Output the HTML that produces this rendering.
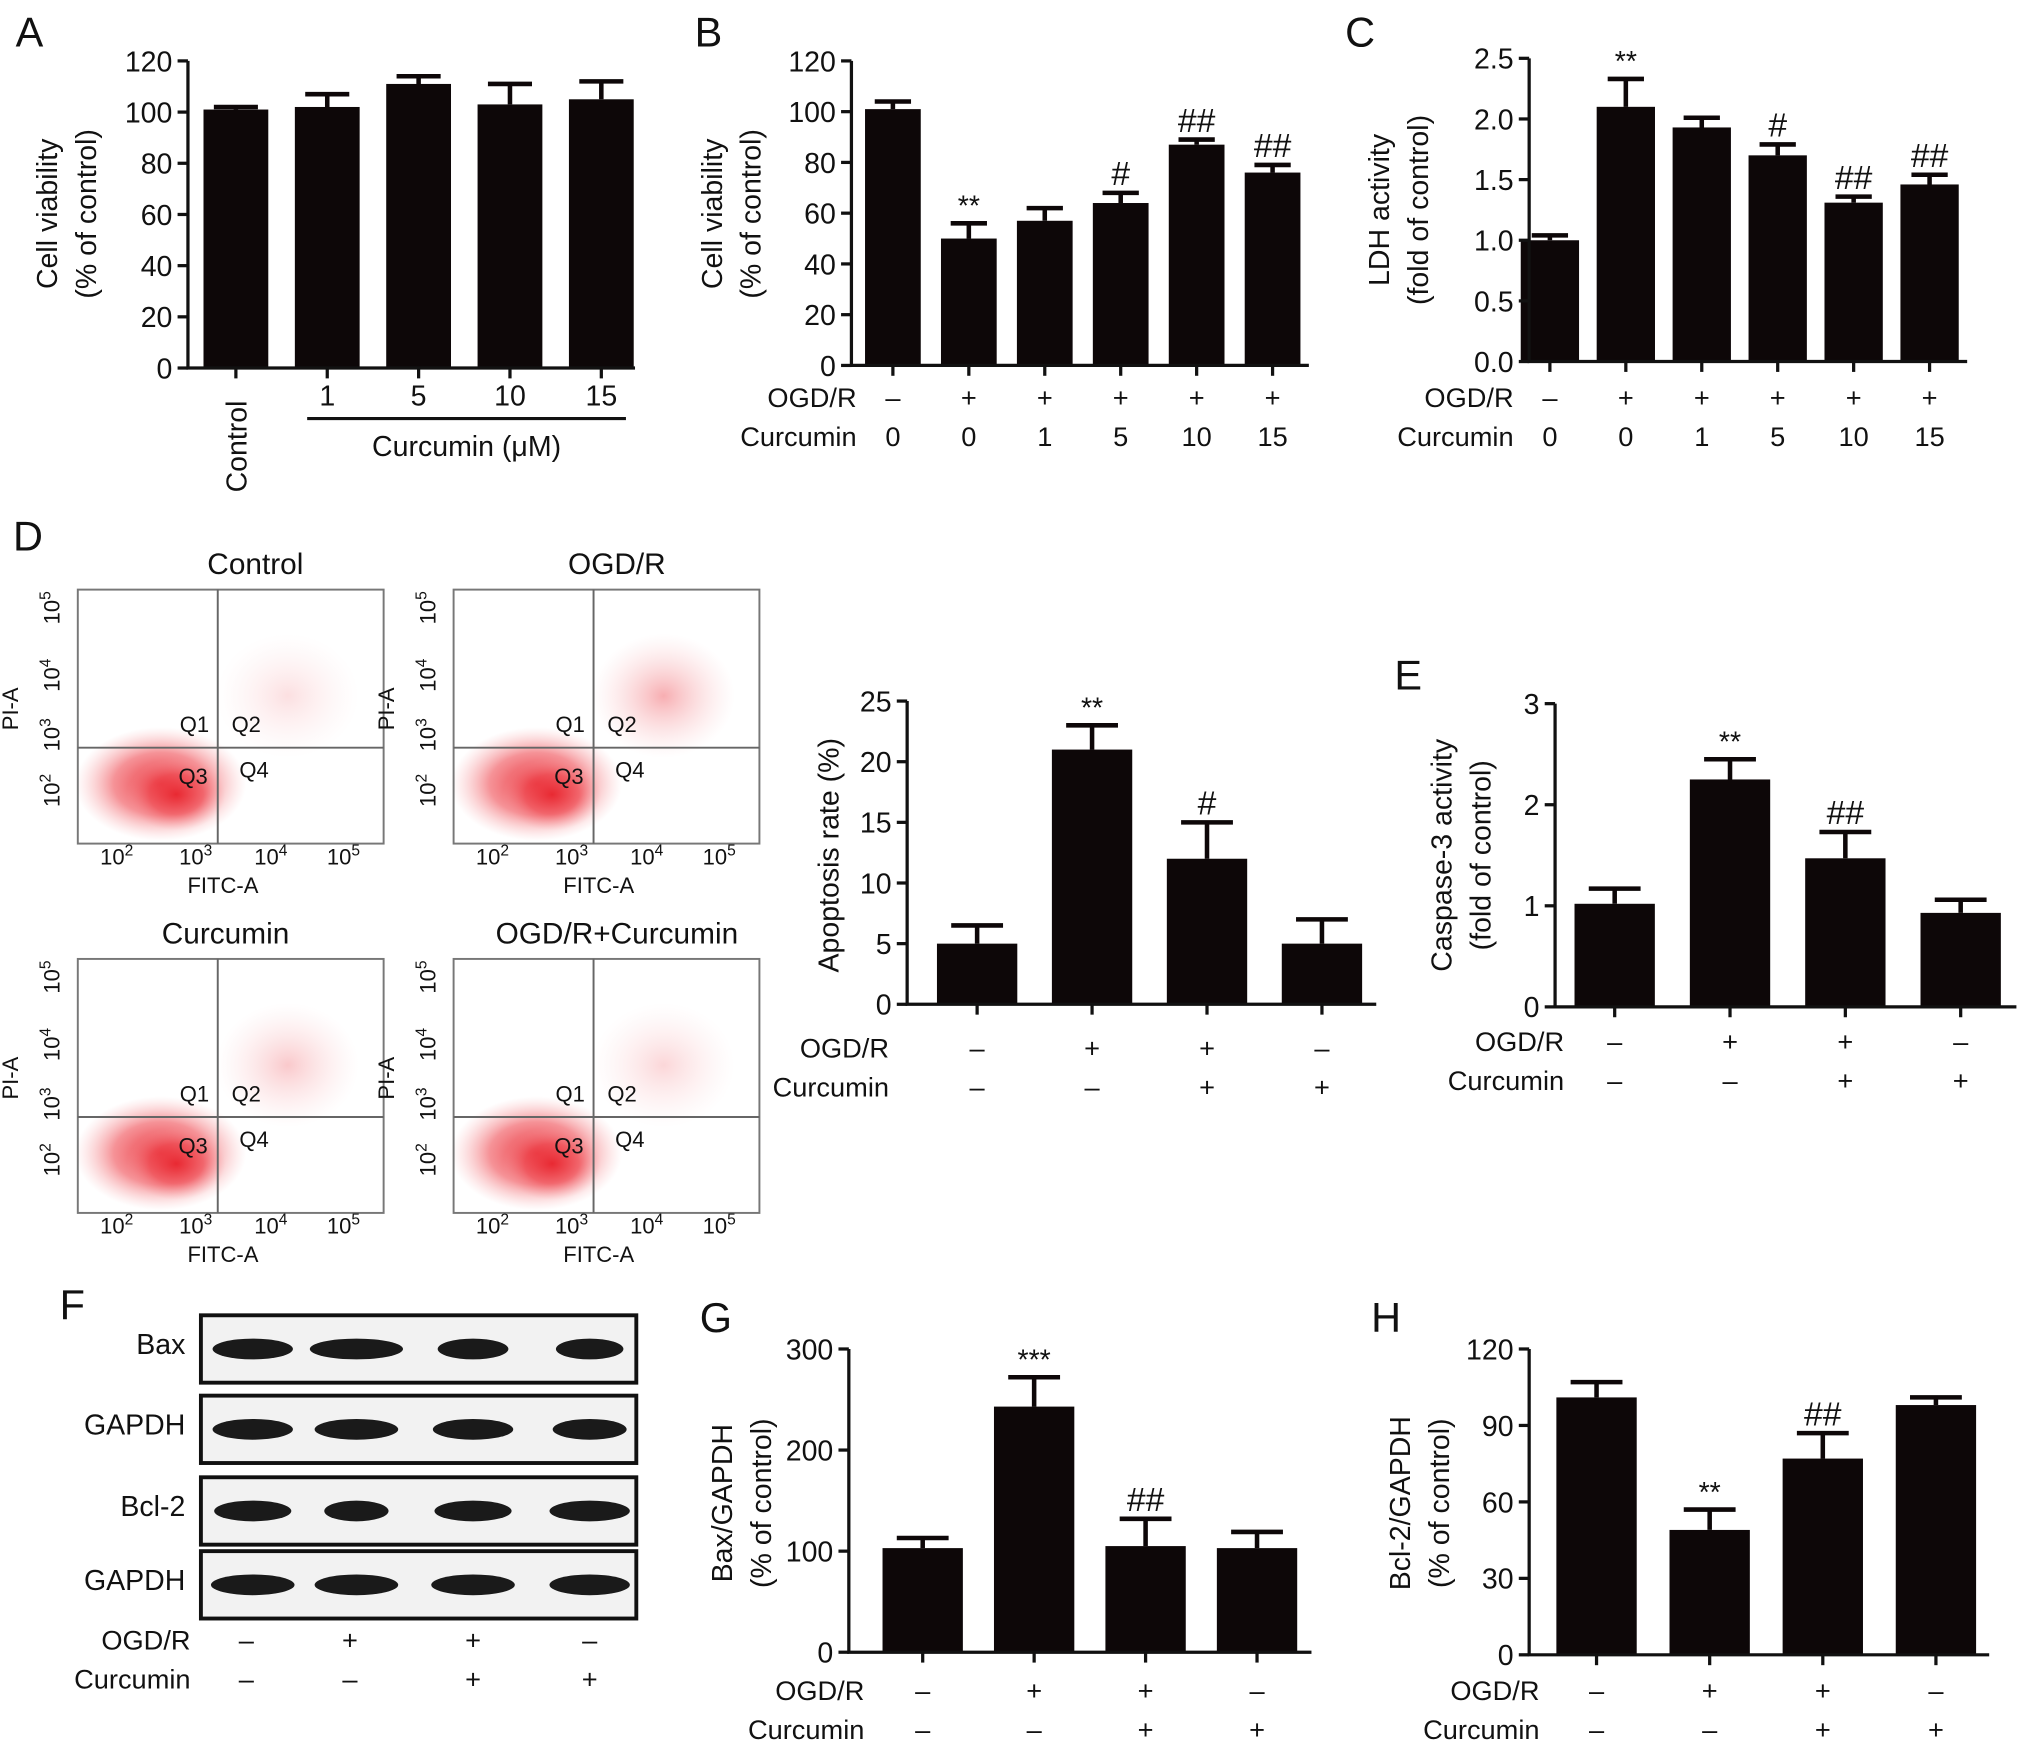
<!DOCTYPE html>
<html><head><meta charset="utf-8"><style>
html,body{margin:0;padding:0;background:#fff}
svg{display:block;font-family:"Liberation Sans",sans-serif}
</style></head><body>
<svg id="fig" width="2032" height="1752" viewBox="0 0 1568 1352" xmlns="http://www.w3.org/2000/svg">
<defs>
<radialGradient id="cloud"><stop offset="0" stop-color="#e8262f" stop-opacity="0.95"/><stop offset="0.55" stop-color="#ef4a52" stop-opacity="0.6"/><stop offset="1" stop-color="#f7a0a4" stop-opacity="0"/></radialGradient>
<radialGradient id="cloud2"><stop offset="0" stop-color="#ef5a62" stop-opacity="0.55"/><stop offset="1" stop-color="#f7b0b4" stop-opacity="0"/></radialGradient>
</defs>
<g id="root"></g>
</svg>
<script>
// ---- chart data ----
const aCats=["Control","1","5","10","15"];
const aVals=[101,102,111,103,105];
const aErr=[102,107,114,111,112];
const aTicks=[0,20,40,60,80,100,120];

const bOgd=["\u2013","+","+","+","+","+"];
const bCur=["0","0","1","5","10","15"];
const bVals=[101,50,57,64,87,76];
const bErr=[104,56,62,68,89,79];
const bSig=["","**","","#","##","##"];
const bTicks=[0,20,40,60,80,100,120];

const cVals=[1.0,2.1,1.93,1.7,1.31,1.46];
const cErr=[1.04,2.33,2.01,1.79,1.36,1.54];
const cSig=["","**","","#","##","##"];
const cTicks=[0,0.5,1.0,1.5,2.0,2.5];
const cTickLabels=["0.0","0.5","1.0","1.5","2.0","2.5"];

const dOgd=["\u2013","+","+","\u2013"];
const dCur=["\u2013","\u2013","+","+"];
const apVals=[5,21,12,5];
const apErr=[6.5,23,15,7];
const apSig=["","**","#",""];
const apTicks=[0,5,10,15,20,25];

const eVals=[1.02,2.25,1.47,0.93];
const eErr=[1.17,2.45,1.73,1.06];
const eSig=["","**","##",""];
const eTicks=[0,1,2,3];

const gVals=[103,243,105,103];
const gErr=[113,272,132,119];
const gSig=["","***","##",""];
const gTicks=[0,100,200,300];

const hVals=[101,49,77,98];
const hErr=[107,57,87,101];
const hSig=["","**","##",""];
const hTicks=[0,30,60,90,120];

const root=document.getElementById('root');
const NS="http://www.w3.org/2000/svg";
function mk(tag,attrs,parent,txt){const e=document.createElementNS(NS,tag);for(const k in attrs)e.setAttribute(k,attrs[k]);if(txt!==undefined)e.textContent=txt;(parent||root).appendChild(e);return e;}
function txt(x,y,s,size,anchor,parent,name,rot){const t=mk('text',{x:x,y:y,'font-size':size,'text-anchor':anchor||'middle',fill:'#111'},parent,s);


if(rot)t.setAttribute('transform','rotate(-90 '+x+' '+y+')');return t;}

function barChart(o){
  const g=mk('g',{});
  
  
  const y=v=>o.y0-(v-o.vmin)/(o.vmax-o.vmin)*(o.y0-o.y1);
  o.vals.forEach((v,i)=>{
    const cx=o.x0+o.first+i*o.step;
    const r=mk('rect',{x:cx-o.bw/2,y:y(v),width:o.bw,height:o.y0-y(v),fill:'#0d0708'},g);
    
    
    const e=o.err[i];
    const eb=mk('path',{d:`M${cx} ${y(v)}V${y(e)}M${cx-o.cap} ${y(e)}H${cx+o.cap}`,stroke:'#0d0708','stroke-width':3.5,fill:'none'},g);
    
    
    if(o.sig&&o.sig[i]){txt(cx,y(e)-6,o.sig[i],o.sig[i][0]=='#'?26:22,'middle',g,'significance-'+i);}
  });
  const ax=mk('path',{d:`M${o.x0} ${o.y1}V${o.y0}H${o.xend}`,stroke:'#111','stroke-width':2.5,fill:'none'},g);
  
  
  o.ticks.forEach((t,i)=>{
    mk('line',{x1:o.x0-8,x2:o.x0,y1:y(t),y2:y(t),stroke:'#111','stroke-width':2.5},g);
    txt(o.x0-12,y(t)+8,o.tickLabels?o.tickLabels[i]:String(t),22,'end',g,'y-tick-label');
  });
  o.vals.forEach((v,i)=>{const cx=o.x0+o.first+i*o.step;mk('line',{x1:cx,x2:cx,y1:o.y0,y2:o.y0+8,stroke:'#111','stroke-width':2.5},g);});
  if(o.title2){txt(o.tx,o.ty,o.title1,22,'middle',g,'y-axis-title',true);txt(o.tx+30,o.ty,o.title2,22,'middle',g,'y-axis-title-sub',true);}
  else txt(o.tx+15,o.ty,o.title1,22,'middle',g,'y-axis-title',true);
  if(o.rows){o.rows.forEach((row,ri)=>{
    const ry=o.rowY[ri];
    txt(o.rowLabelX,ry,row.label,21,'end',g,row.label.toLowerCase().replace('/','')+'-row-label');
    row.vals.forEach((s,i)=>txt(o.x0+o.first+i*o.step,ry,s,21,'middle',g,'condition-mark'));
  });}
  return g;
}
[["A",12,36],["B",536,36],["C",1038,36],["D",10,425],["E",1076,532],["F",46,1018],["G",540,1028],["H",1058,1028]].forEach(p=>txt(p[1],p[2],p[0],32,'start',root,'panel-label-'+p[0].toLowerCase()));

// A
barChart({name:'panel-a-chart',vals:aVals,err:aErr,ticks:aTicks,vmin:0,vmax:120,x0:145,y0:284,y1:47,xend:490,first:37,step:70.5,bw:50,cap:17,title1:'Cell viability',title2:'(% of control)',tx:44,ty:165});
aCats.forEach((c,i)=>{const cx=182+i*70.5;if(i==0)txt(cx+8,380,c,22,'start',root,'x-label-control',true);else txt(cx,313,c,22,'middle',root,'x-label-'+c);});
mk('line',{x1:237,x2:483,y1:323,y2:323,stroke:'#111','stroke-width':2.5});
txt(360,352,'Curcumin (\u03bcM)',22,'middle',root,'x-axis-title');

// B
barChart({name:'panel-b-chart',vals:bVals,err:bErr,sig:bSig,ticks:bTicks,vmin:0,vmax:120,x0:657,y0:282,y1:47,xend:1010,first:32,step:58.6,bw:43,cap:14,title1:'Cell viability',title2:'(% of control)',tx:557,ty:165,
 rows:[{label:'OGD/R',vals:bOgd},{label:'Curcumin',vals:bCur}],rowY:[314,344],rowLabelX:661});
// C
barChart({name:'panel-c-chart',vals:cVals,err:cErr,sig:cSig,ticks:cTicks,tickLabels:cTickLabels,vmin:0,vmax:2.5,x0:1180,y0:279,y1:45,xend:1518,first:16,step:58.6,bw:45,cap:14,title1:'LDH activity',title2:'(fold of control)',tx:1072,ty:162,
 rows:[{label:'OGD/R',vals:bOgd},{label:'Curcumin',vals:bCur}],rowY:[314,344],rowLabelX:1168});
// Apoptosis
barChart({name:'apoptosis-chart',vals:apVals,err:apErr,sig:apSig,ticks:apTicks,vmin:0,vmax:25,x0:700,y0:775,y1:541,xend:1062,first:54,step:88.7,bw:62,cap:20,title1:'Apoptosis rate (%)',tx:632,ty:660,
 rows:[{label:'OGD/R',vals:dOgd},{label:'Curcumin',vals:dCur}],rowY:[816,846],rowLabelX:686});
// E
barChart({name:'panel-e-chart',vals:eVals,err:eErr,sig:eSig,ticks:eTicks,vmin:0,vmax:3,x0:1200,y0:777,y1:543,xend:1556,first:46,step:89,bw:62,cap:20,title1:'Caspase-3 activity',title2:'(fold of control)',tx:1120,ty:660,
 rows:[{label:'OGD/R',vals:dOgd},{label:'Curcumin',vals:dCur}],rowY:[811,841],rowLabelX:1207});
// G
barChart({name:'panel-g-chart',vals:gVals,err:gErr,sig:gSig,ticks:gTicks,vmin:0,vmax:300,x0:655,y0:1275,y1:1041,xend:1012,first:57,step:86,bw:62,cap:20,title1:'Bax/GAPDH',title2:'(% of control)',tx:565,ty:1160,
 rows:[{label:'OGD/R',vals:dOgd},{label:'Curcumin',vals:dCur}],rowY:[1312,1342],rowLabelX:667});
// H
barChart({name:'panel-h-chart',vals:hVals,err:hErr,sig:hSig,ticks:hTicks,vmin:0,vmax:120,x0:1180,y0:1277,y1:1041,xend:1535,first:52,step:87.3,bw:62,cap:20,title1:'Bcl-2/GAPDH',title2:'(% of control)',tx:1088,ty:1160,
 rows:[{label:'OGD/R',vals:dOgd},{label:'Curcumin',vals:dCur}],rowY:[1312,1342],rowLabelX:1188});

// Flow cytometry plots
const flowTitles=["Control","OGD/R","Curcumin","OGD/R+Curcumin"];
const flowPos=[[60,455],[350,455],[60,740],[350,740]];
const titleOff=[19,8,-4,8];
const q2Strength=[0.35,0.9,0.6,0.45];
flowPos.forEach((p,k)=>{
  const g=mk('g',{});
  
  
  const [x,y]=p,w=236,h=196;
  txt(x+w/2+titleOff[k],y-12,flowTitles[k],23,'middle',g,'flow-title');
  mk('ellipse',{cx:x+64,cy:y+150,rx:66,ry:44,fill:'url(#cloud)'},g);
  mk('ellipse',{cx:x+76,cy:y+158,rx:38,ry:28,fill:'url(#cloud)'},g);
  mk('ellipse',{cx:x+162,cy:y+82,rx:55,ry:48,fill:'url(#cloud2)','opacity':q2Strength[k]},g);
  mk('rect',{x:x,y:y,width:w,height:h,fill:'none',stroke:'#777','stroke-width':1.5},g);
  mk('line',{x1:x+108,x2:x+108,y1:y,y2:y+h,stroke:'#666','stroke-width':1.5},g);
  mk('line',{x1:x,x2:x+w,y1:y+122,y2:y+122,stroke:'#666','stroke-width':1.5},g);
  txt(x+90,y+110,'Q1',17,'middle',g,'q1');txt(x+130,y+110,'Q2',17,'middle',g,'q2');
  txt(x+89,y+150,'Q3',17,'middle',g,'q3');txt(x+136,y+145,'Q4',17,'middle',g,'q4');
  [[30,'2'],[91,'3'],[149,'4'],[205,'5']].forEach(t=>{const tt=txt(x+t[0],y+h+16,'10',17,'middle',g,'x-tick');mk('tspan',{dy:-7,'font-size':12},tt,t[1]);});
  txt(x+112,y+h+38,'FITC-A',17,'middle',g,'x-axis-title');
  [[155,'2'],[112,'3'],[66,'4'],[14,'5']].forEach(t=>{const tt=txt(x-14,y+t[0],'10',17,'middle',g,'y-tick',true);mk('tspan',{dy:-7,'font-size':12},tt,t[1]);});
  txt(x-46,y+92,'PI-A',17,'middle',g,'y-axis-title',true);
});

// Western blot
const blotLabels=["Bax","GAPDH","Bcl-2","GAPDH"];
const blotY=[1015,1077,1140,1197];
const bandW=[[50,58,44,42],[50,52,50,46],[48,40,48,50],[52,52,52,50]];
const bandX=[195,275,365,455];
blotLabels.forEach((l,r)=>{
  const g=mk('g',{});
  
  
  mk('rect',{x:155,y:blotY[r],width:336,height:52,fill:'#f2f2f2',stroke:'#111','stroke-width':3},g);
  bandX.forEach((bx,i)=>mk('ellipse',{cx:bx,cy:blotY[r]+26,rx:bandW[r][i]*0.62,ry:8,fill:'#1a1a1a'},g));
  txt(143,blotY[r]+30,l,22,'end',g,'blot-label');
});
txt(147,1273,'OGD/R',21,'end',root,'ogdr-row-label');
txt(147,1303,'Curcumin',21,'end',root,'curcumin-row-label');
bandX.forEach((bx,i)=>{txt(bx-5+(i>1?5:0),1273,dOgd[i],21,'middle',root,'condition-mark');txt(bx-5+(i>1?5:0),1303,dCur[i],21,'middle',root,'condition-mark');});
</script>
</body></html>
